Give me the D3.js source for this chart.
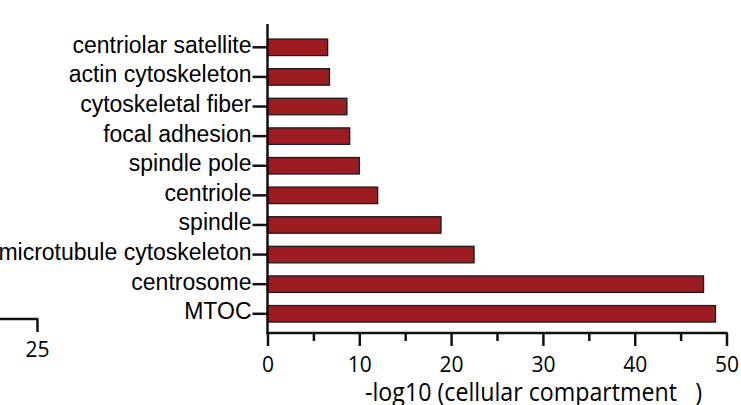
<!DOCTYPE html>
<html>
<head>
<meta charset="utf-8">
<script src="https://cdn.jsdelivr.net/npm/d3@7"></script>
<style>
  html, body { margin: 0; padding: 0; background: #fff; }
  svg { display: block; }
</style>
</head>
<body>
<svg id="chart" width="741" height="405"></svg>
<script>
// GO cellular-compartment enrichment, top to bottom
const categories = [
  "centriolar satellite",
  "actin cytoskeleton",
  "cytoskeletal fiber",
  "focal adhesion",
  "spindle pole",
  "centriole",
  "spindle",
  "microtubule cytoskeleton",
  "centrosome",
  "MTOC"
];
const values = [6.55, 6.75, 8.65, 8.95, 10.0, 12.0, 18.9, 22.5, 47.5, 48.8];
const majorTicks = [0, 10, 20, 30, 40, 50];
const minorTicks = [5, 15, 25, 35, 45];
const xTitle = "-log10 (cellular compartment   )";
// neighbouring panel's axis, only its right end is visible
const sideTicks = [25];

const svg = d3.select("#chart");
const ink = "#111";
const barFill = "#9c1c22";
const tickFont = "'Open Sans', 'Noto Sans', sans-serif";
const labelFont = "'Liberation Sans', Arial, sans-serif";

const x = d3.scaleLinear().domain([0, 50]).range([267.5, 726.5]);
const y = d3.scaleBand().domain(categories).range([32.5, 328.6])
  .paddingInner(0.443).paddingOuter(0.2215);

const axisY = 333;

// bars
svg.append("g").selectAll("rect")
  .data(categories.map((c, i) => ({ c, v: values[i] })))
  .join("rect")
  .attr("x", x(0))
  .attr("y", d => y(d.c))
  .attr("width", d => x(d.v) - x(0))
  .attr("height", y.bandwidth())
  .attr("fill", barFill)
  .attr("stroke", "#1a1a1a")
  .attr("stroke-width", 1.3);

// y axis
const gy = svg.append("g").attr("transform", `translate(${x(0)},0)`)
  .call(d3.axisLeft(y).tickSize(15).tickPadding(1).tickSizeOuter(0));
gy.select(".domain").remove();
gy.selectAll(".tick line").attr("stroke", ink).attr("stroke-width", 2.5);
gy.selectAll(".tick text")
  .attr("font-family", labelFont).attr("font-size", 23)
  .attr("fill", "#000").attr("dy", "0.24em");
gy.append("line").attr("x1", 0).attr("x2", 0).attr("y1", 24).attr("y2", axisY + 1.5)
  .attr("stroke", ink).attr("stroke-width", 2.5);

// x axis: minor then major ticks
const gxMinor = svg.append("g").attr("transform", `translate(0,${axisY})`)
  .call(d3.axisBottom(x).tickValues(minorTicks).tickSize(8).tickFormat(""));
gxMinor.select(".domain").remove();
gxMinor.selectAll(".tick line").attr("stroke", ink).attr("stroke-width", 2.5);

const gx = svg.append("g").attr("transform", `translate(0,${axisY})`)
  .call(d3.axisBottom(x).tickValues(majorTicks).tickSize(13).tickPadding(11).tickFormat(d3.format("d")));
gx.select(".domain").remove();
gx.selectAll(".tick line").attr("stroke", ink).attr("stroke-width", 2.5);
gx.selectAll(".tick text")
  .attr("font-family", tickFont).attr("font-size", 21).attr("fill", "#000");
gx.append("line").attr("x1", x(0) - 1).attr("x2", x(50) + 1.2).attr("y1", 0).attr("y2", 0)
  .attr("stroke", ink).attr("stroke-width", 2.5);

// x title
svg.append("text")
  .attr("x", 365).attr("y", 401)
  .attr("font-family", tickFont).attr("font-size", 25)
  .attr("fill", "#000")
  .attr("textLength", 337).attr("lengthAdjust", "spacingAndGlyphs")
  .style("white-space", "pre")
  .text(xTitle);

// partial axis of the panel to the left
const xSide = d3.scaleLinear().domain([0, 25]).range([-330, 37]);
const gs = svg.append("g").attr("transform", "translate(0,319)")
  .call(d3.axisBottom(xSide).tickValues(sideTicks).tickSize(13).tickPadding(10).tickFormat(d3.format("d")));
gs.select(".domain").remove();
gs.selectAll(".tick line").attr("stroke", ink).attr("stroke-width", 2.5);
gs.selectAll(".tick text")
  .attr("font-family", tickFont).attr("font-size", 21).attr("fill", "#000");
gs.append("line").attr("x1", xSide(0)).attr("x2", xSide(25) + 1.2).attr("y1", 0).attr("y2", 0)
  .attr("stroke", ink).attr("stroke-width", 2.5);
</script>
</body>
</html>
